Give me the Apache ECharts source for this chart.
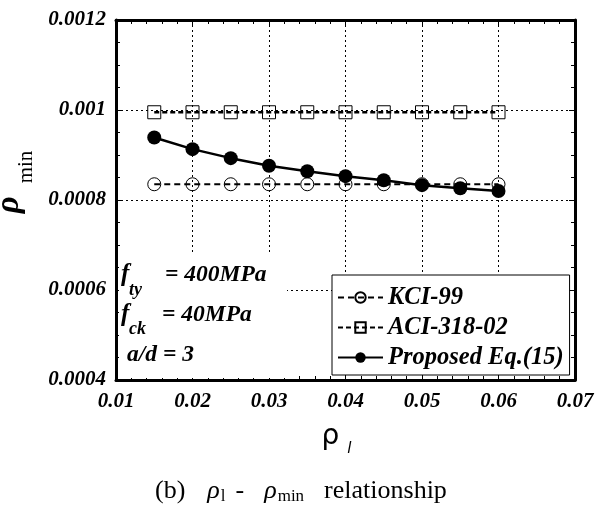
<!DOCTYPE html>
<html>
<head>
<meta charset="utf-8">
<style>
  html, body { margin: 0; padding: 0; background: #fff; }
  #chart { width: 598px; height: 509px; }
</style>
<script src="https://cdn.jsdelivr.net/npm/echarts@6/dist/echarts.min.js"></script>
</head>
<body>
<div id="chart"></div>
<script>
// 数据
var rhoL = [0.015, 0.02, 0.025, 0.03, 0.035, 0.04, 0.045, 0.05, 0.055, 0.06];
var kci99 = [0.000835, 0.000835, 0.000835, 0.000835, 0.000835, 0.000835, 0.000835, 0.000835, 0.000835, 0.000835];
var aci318 = [0.000995, 0.000995, 0.000995, 0.000995, 0.000995, 0.000995, 0.000995, 0.000995, 0.000995, 0.000995];
var proposed = [0.000939, 0.000913, 0.000893, 0.000876, 0.000864, 0.000853, 0.000844, 0.000833, 0.000826, 0.00082];
var seriesNames = ['KCI-99', 'ACI-318-02', 'Proposed Eq.(15)'];

function pairs(ys) {
    return rhoL.map(function (x, i) { return [x, ys[i]]; });
}

var serif = 'Liberation Serif';
var tickFont = {
    fontFamily: serif, fontStyle: 'italic', fontWeight: 'bold', fontSize: 21, color: '#000'
};

// 边框轴（上、右）只画刻度
function frameAxis(pos, isX) {
    return {
        type: 'value',
        position: pos,
        min: isX ? 0.01 : 0.0004,
        max: isX ? 0.07 : 0.0012,
        interval: isX ? 0.01 : 0.0002,
        axisLine: { show: true, lineStyle: { color: '#000', width: 3 } },
        axisTick: { show: true, inside: true, length: 6, lineStyle: { color: '#000', width: 1 } },
        minorTick: { show: true, splitNumber: isX ? 5 : 4, length: 4, lineStyle: { color: '#000', width: 1 } },
        axisLabel: { show: false },
        splitLine: { show: false }
    };
}

var myChart = echarts.init(document.getElementById('chart'));
var option = {
    backgroundColor: '#fff',
    animation: false,
    grid: { left: 116, right: 23, top: 20, bottom: 129, outerBoundsMode: 'none', containLabel: false },
    legend: {
        orient: 'vertical',
        left: 332,
        top: 275,
        backgroundColor: '#fff',
        borderColor: '#000',
        borderWidth: 1,
        padding: [10, 6, 5, 5],
        itemGap: 5,
        itemWidth: 45,
        itemHeight: 13,
        data: seriesNames,
        textStyle: {
            fontFamily: serif, fontStyle: 'italic', fontWeight: 'bold', fontSize: 24.5, lineHeight: 23, color: '#000'
        }
    },
    xAxis: [
        {
            type: 'value',
            min: 0.01,
            max: 0.07,
            interval: 0.01,
            name: '{a|ρ}{b|l}',
            nameLocation: 'middle',
            nameGap: 36,
            nameTextStyle: {
                rich: {
                    a: { fontFamily: 'DejaVu Sans', fontSize: 28, color: '#000', padding: [0, 8, 0, 0] },
                    b: { fontFamily: 'DejaVu Sans', fontStyle: 'italic', fontSize: 15, color: '#000', padding: [26, 18, 0, 0] }
                }
            },
            axisLine: { show: true, lineStyle: { color: '#000', width: 3 } },
            axisTick: { show: true, inside: true, length: 6, lineStyle: { color: '#000' } },
            minorTick: { show: true, splitNumber: 5, length: 4, lineStyle: { color: '#000' } },
            axisLabel: Object.assign({ margin: 11 }, tickFont),
            splitLine: { show: true, lineStyle: { color: '#000', type: [2, 3], width: 1 } }
        },
        frameAxis('top', true)
    ],
    yAxis: [
        {
            type: 'value',
            min: 0.0004,
            max: 0.0012,
            interval: 0.0002,
            name: '{a|ρ}{b|min}',
            nameLocation: 'middle',
            nameRotate: 90,
            nameGap: 78,
            nameTextStyle: {
                padding: [0, 0, 0, 36],
                rich: {
                    a: { fontFamily: serif, fontStyle: 'italic', fontWeight: 'bold', fontSize: 33, lineHeight: 44, verticalAlign: 'top', color: '#000' },
                    b: { fontFamily: serif, fontSize: 21, lineHeight: 16, verticalAlign: 'bottom', color: '#000', padding: [0, 0, 0, 13] }
                }
            },
            axisLine: { show: true, lineStyle: { color: '#000', width: 3 } },
            axisTick: { show: true, inside: true, length: 6, lineStyle: { color: '#000' } },
            minorTick: { show: true, splitNumber: 4, length: 4, lineStyle: { color: '#000' } },
            axisLabel: Object.assign({ margin: 10 }, tickFont),
            splitLine: { show: true, lineStyle: { color: '#000', type: [2, 3], width: 1 } }
        },
        frameAxis('right', false)
    ],
    graphic: [
        // 参数说明的白底
        { type: 'rect', left: 119, top: 255, shape: { width: 168, height: 123 }, style: { fill: '#fff' }, z: 1 },
        { type: 'text', left: 121, top: 262, z: 5, style: { text: 'f', font: 'italic bold 25px "Liberation Serif"', fill: '#000' } },
        { type: 'text', left: 129, top: 281, z: 5, style: { text: 'ty', font: 'italic bold 18px "Liberation Serif"', fill: '#000' } },
        { type: 'text', left: 165, top: 263, z: 5, style: { text: '= 400MPa', font: 'italic bold 23.5px "Liberation Serif"', fill: '#000' } },
        { type: 'text', left: 121, top: 302, z: 5, style: { text: 'f', font: 'italic bold 25px "Liberation Serif"', fill: '#000' } },
        { type: 'text', left: 129, top: 320, z: 5, style: { text: 'ck', font: 'italic bold 18px "Liberation Serif"', fill: '#000' } },
        { type: 'text', left: 162, top: 303, z: 5, style: { text: '= 40MPa', font: 'italic bold 23.5px "Liberation Serif"', fill: '#000' } },
        { type: 'text', left: 127, top: 343, z: 5, style: { text: 'a/d = 3', font: 'italic bold 23.5px "Liberation Serif"', fill: '#000' } },
        // 图题
        {
            type: 'text', left: 155, top: 478, z: 5,
            style: {
                text: '{n|(b)}{g|ρ}{s|l}{h|-}{g2|ρ}{s|min}{r|relationship}',
                fill: '#000',
                rich: {
                    n: { fontFamily: serif, fontSize: 26, fill: '#000', lineHeight: 28 },
                    g: { fontFamily: serif, fontStyle: 'italic', fontSize: 26, fill: '#000', lineHeight: 28, padding: [0, 0, 0, 22] },
                    s: { fontFamily: serif, fontSize: 17, fill: '#000', lineHeight: 28, padding: [10, 0, 0, 1] },
                    h: { fontFamily: serif, fontSize: 26, fill: '#000', lineHeight: 28, padding: [0, 0, 0, 10] },
                    g2: { fontFamily: serif, fontStyle: 'italic', fontSize: 26, fill: '#000', lineHeight: 28, padding: [0, 0, 0, 20] },
                    r: { fontFamily: serif, fontSize: 26, fill: '#000', lineHeight: 28, padding: [0, 0, 0, 20] }
                }
            }
        }
    ],
    series: [
        {
            name: seriesNames[0],
            type: 'line',
            data: pairs(kci99),
            symbol: 'circle',
            symbolSize: 13,
            itemStyle: { color: 'rgba(255,255,255,0)', borderColor: '#000', borderWidth: 1 },
            lineStyle: { color: '#000', width: 2, type: [6, 4] },
            z: 3
        },
        {
            name: seriesNames[1],
            type: 'line',
            data: pairs(aci318),
            symbol: 'rect',
            symbolSize: 13,
            itemStyle: { color: 'rgba(255,255,255,0)', borderColor: '#000', borderWidth: 1 },
            lineStyle: { color: '#000', width: 2.5, type: [5, 3] },
            z: 3
        },
        {
            name: seriesNames[2],
            type: 'line',
            data: pairs(proposed),
            symbol: 'circle',
            symbolSize: 14,
            itemStyle: { color: '#000' },
            lineStyle: { color: '#000', width: 2.5 },
            z: 4
        }
    ]
};
myChart.setOption(option);
</script>
</body>
</html>
